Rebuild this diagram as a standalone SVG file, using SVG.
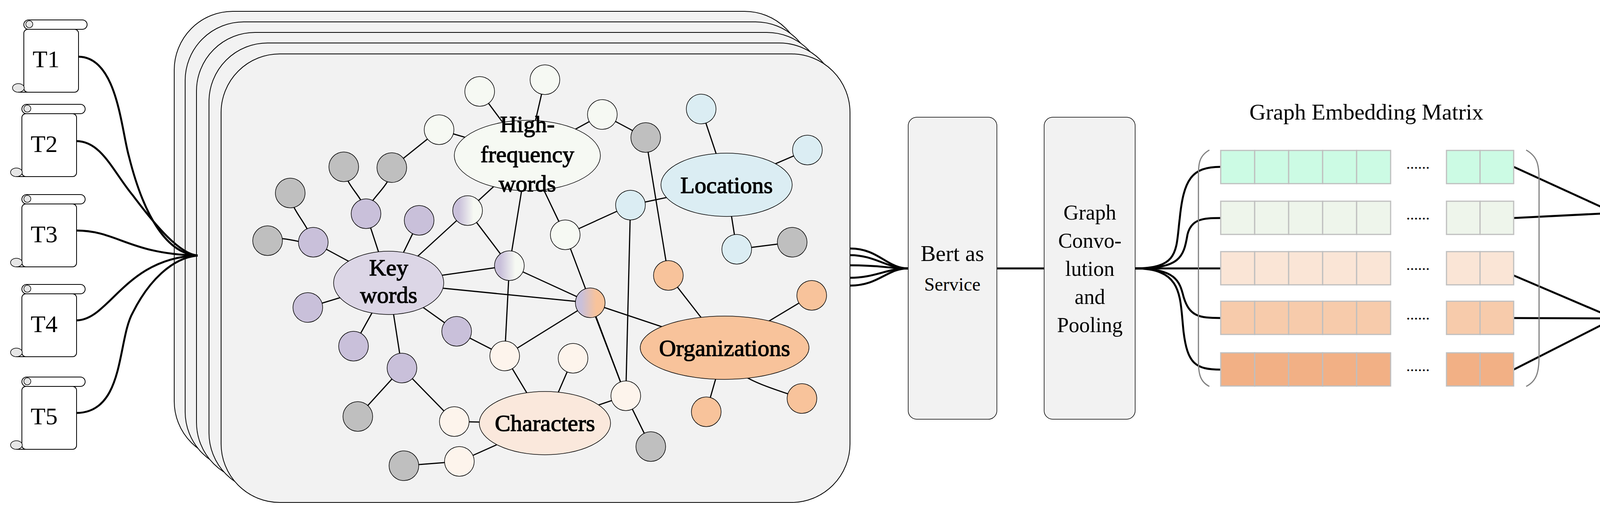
<svg xmlns="http://www.w3.org/2000/svg" width="4399" height="1313" viewBox="0 0 4399 1313">
<style>
text{font-family:"Liberation Serif","Times New Roman",serif;fill:#000;text-anchor:middle}
.e{stroke:#000;stroke-width:3;fill:none}
.f{stroke:#000;stroke-width:5;fill:none}
.n{stroke:#000;stroke-width:1.5}
.gray{fill:#bfbfbf}.gw{fill:#f6f9f3}.bl{fill:#dbedf3}.pu{fill:#c9c0da}.or{fill:#f8c39b}.pe{fill:#fdf4ec}
.panel{fill:#f2f2f2;stroke:#000;stroke-width:2}
.cell{stroke:#bfbfbf;stroke-width:3}
.r1{fill:#ccfbe4}.r2{fill:#eef5eb}.r3{fill:#fae5d6}.r4{fill:#f7cbab}.r5{fill:#f2b085}
</style>
<defs>
<linearGradient id="gpw"><stop offset="0.2" stop-color="#c9c0da"/><stop offset="0.7" stop-color="#f6f9f3"/></linearGradient>
<linearGradient id="gpo"><stop offset="0.2" stop-color="#c9c0da"/><stop offset="0.7" stop-color="#f8c39b"/></linearGradient>
<g id="scroll">
<rect x="0" y="0" width="140" height="161" rx="10" fill="#fff" stroke="#000" stroke-width="2"/>
<rect x="0" y="-24" width="162" height="24" rx="12" fill="#fff" stroke="#000" stroke-width="2"/>
<circle cx="14" cy="-13" r="9" fill="#e6e6e6" stroke="#000" stroke-width="1.5"/>
<ellipse cx="-14" cy="150" rx="15" ry="11" fill="#e6e6e6" stroke="#000" stroke-width="1.5"/>
<line x1="-14" y1="161" x2="10" y2="161" stroke="#000" stroke-width="2"/>
</g>
</defs>

<g id="docs">
<g id="T1"><use href="#scroll" x="61" y="75"/><text x="118" y="172" font-size="62">T1</text></g>
<g id="T2"><use href="#scroll" x="56" y="291"/><text x="113" y="389" font-size="62">T2</text></g>
<g id="T3"><use href="#scroll" x="56" y="522"/><text x="113" y="620" font-size="62">T3</text></g>
<g id="T4"><use href="#scroll" x="56" y="752"/><text x="113" y="850" font-size="62">T4</text></g>
<g id="T5"><use href="#scroll" x="56" y="989"/><text x="113" y="1086" font-size="62">T5</text></g>
</g>

<g id="panels">
<rect class="panel" x="446" y="29" width="1610" height="1148" rx="150"/>
<rect class="panel" x="474" y="56" width="1610" height="1148" rx="150"/>
<rect class="panel" x="503" y="83" width="1610" height="1148" rx="150"/>
<rect class="panel" x="535" y="110" width="1610" height="1148" rx="150"/>
<rect class="panel" x="566" y="138" width="1610" height="1148" rx="150"/>
</g>

<g id="connectors">
<path class="f" d="M200,145 C300,145 310,330 330,400 C370,560 430,650 506,654"/>
<path class="f" d="M195,361 C260,361 290,440 340,500 C400,580 460,650 506,654"/>
<path class="f" d="M195,590 C300,590 330,650 506,654"/>
<path class="f" d="M195,820 C280,820 320,660 506,654"/>
<path class="f" d="M195,1057 C320,1057 300,870 340,800 C380,720 440,660 506,654"/>
<path class="f" d="M2176,636 C2250,636 2270,687 2325,687"/>
<path class="f" d="M2176,653 C2240,653 2270,687 2325,687"/>
<path class="f" d="M2176,679 C2260,679 2270,687 2325,687"/>
<path class="f" d="M2176,711 C2240,711 2270,687 2325,687"/>
<path class="f" d="M2176,731 C2250,731 2270,687 2325,687"/>
<line class="f" x1="2552" y1="687" x2="2673" y2="687"/>
<path class="f" d="M2906,687 C3020,687 3010,640 3020,560 C3030,460 3050,427 3125,427" stroke-width="4"/>
<path class="f" d="M2906,687 C3020,687 3030,660 3040,600 C3050,560 3080,558 3125,558" stroke-width="4"/>
<line class="f" x1="2906" y1="687" x2="3125" y2="687"/>
<path class="f" d="M2906,687 C3010,687 3020,720 3030,760 C3045,810 3070,814 3125,814" stroke-width="4"/>
<path class="f" d="M2906,687 C3030,687 3020,760 3030,850 C3040,930 3060,946 3125,946" stroke-width="4"/>
<line class="f" x1="3875" y1="427" x2="4133" y2="545"/>
<line class="f" x1="3875" y1="558" x2="4133" y2="545"/>
<line class="f" x1="3875" y1="705" x2="4133" y2="815"/>
<line class="f" x1="3875" y1="814" x2="4133" y2="815"/>
<line class="f" x1="3875" y1="946" x2="4133" y2="815"/>
<g id="graph-edges" class="e">
<line x1="1350" y1="398" x2="1228" y2="234"/>
<line x1="1350" y1="398" x2="1395" y2="204"/>
<line x1="1350" y1="398" x2="1124" y2="332"/>
<line x1="1350" y1="398" x2="1542" y2="293"/>
<line x1="1003" y1="429" x2="1124" y2="332"/>
<line x1="1542" y1="293" x2="1653" y2="352"/>
<line x1="1653" y1="352" x2="1711" y2="705"/>
<line x1="1350" y1="398" x2="1447" y2="601"/>
<line x1="1447" y1="601" x2="1614" y2="525"/>
<line x1="1614" y1="525" x2="1860" y2="473"/>
<line x1="1860" y1="473" x2="1795" y2="279"/>
<line x1="1860" y1="473" x2="2067" y2="384"/>
<line x1="1860" y1="473" x2="1886" y2="638"/>
<line x1="1886" y1="638" x2="2028" y2="620"/>
<line x1="1447" y1="601" x2="1602" y2="1013"/>
<line x1="1614" y1="525" x2="1602" y2="1013"/>
<line x1="1350" y1="398" x2="1197" y2="539"/>
<line x1="1350" y1="398" x2="1304" y2="680"/>
<line x1="1197" y1="539" x2="995" y2="724"/>
<line x1="1197" y1="539" x2="1304" y2="680"/>
<line x1="1304" y1="680" x2="995" y2="724"/>
<line x1="1304" y1="680" x2="1511" y2="775"/>
<line x1="1304" y1="680" x2="1292" y2="911"/>
<line x1="995" y1="724" x2="1511" y2="775"/>
<line x1="1511" y1="775" x2="1855" y2="890"/>
<line x1="1511" y1="775" x2="1292" y2="911"/>
<line x1="1511" y1="775" x2="1602" y2="1013"/>
<line x1="995" y1="724" x2="937" y2="547"/>
<path d="M937,547 C930,500 885,480 880,427"/>
<path d="M937,547 C950,500 1000,480 1003,429"/>
<line x1="995" y1="724" x2="1073" y2="564"/>
<line x1="995" y1="724" x2="802" y2="620"/>
<path d="M802,620 C780,560 745,540 743,494"/>
<path d="M802,620 C760,625 730,600 685,616"/>
<line x1="995" y1="724" x2="788" y2="787"/>
<line x1="995" y1="724" x2="905" y2="886"/>
<line x1="995" y1="724" x2="1169" y2="848"/>
<line x1="1169" y1="848" x2="1292" y2="911"/>
<line x1="995" y1="724" x2="1029" y2="942"/>
<line x1="1029" y1="942" x2="916" y2="1066"/>
<line x1="1029" y1="942" x2="1163" y2="1079"/>
<line x1="1163" y1="1079" x2="1395" y2="1083"/>
<line x1="1395" y1="1083" x2="1292" y2="911"/>
<line x1="1395" y1="1083" x2="1467" y2="917"/>
<line x1="1395" y1="1083" x2="1176" y2="1181"/>
<line x1="1176" y1="1181" x2="1034" y2="1192"/>
<line x1="1395" y1="1083" x2="1602" y2="1013"/>
<line x1="1602" y1="1013" x2="1666" y2="1143"/>
<line x1="1855" y1="890" x2="1711" y2="705"/>
<line x1="1855" y1="890" x2="2078" y2="756"/>
<path d="M1855,890 C1880,960 1900,970 2053,1020"/>
<line x1="1855" y1="890" x2="1808" y2="1054"/>
</g>
</g>

<g id="graph-nodes" class="n">
<g id="n-gray">
<circle class="gray n" cx="880" cy="427" r="38"/><circle class="gray n" cx="1003" cy="429" r="38"/>
<circle class="gray n" cx="743" cy="494" r="38"/><circle class="gray n" cx="685" cy="616" r="38"/>
<circle class="gray n" cx="1653" cy="352" r="38"/><circle class="gray n" cx="2028" cy="620" r="38"/>
<circle class="gray n" cx="916" cy="1066" r="38"/><circle class="gray n" cx="1034" cy="1192" r="38"/>
<circle class="gray n" cx="1666" cy="1143" r="38"/>
</g>
<g id="n-hf">
<circle class="gw n" cx="1228" cy="234" r="38"/><circle class="gw n" cx="1395" cy="204" r="38"/>
<circle class="gw n" cx="1124" cy="332" r="38"/><circle class="gw n" cx="1542" cy="293" r="38"/>
<circle class="gw n" cx="1447" cy="601" r="38"/>
</g>
<g id="n-loc">
<circle class="bl n" cx="1795" cy="279" r="38"/><circle class="bl n" cx="2067" cy="384" r="38"/>
<circle class="bl n" cx="1614" cy="525" r="38"/><circle class="bl n" cx="1886" cy="638" r="38"/>
</g>
<g id="n-kw">
<circle class="pu n" cx="937" cy="547" r="38"/><circle class="pu n" cx="1073" cy="564" r="38"/>
<circle class="pu n" cx="802" cy="620" r="38"/><circle class="pu n" cx="788" cy="787" r="38"/>
<circle class="pu n" cx="905" cy="886" r="38"/><circle class="pu n" cx="1169" cy="848" r="38"/>
<circle class="pu n" cx="1029" cy="942" r="38"/>
</g>
<g id="n-mix">
<circle class="n" cx="1197" cy="539" r="38" fill="url(#gpw)"/>
<circle class="n" cx="1304" cy="680" r="38" fill="url(#gpw)"/>
<circle class="n" cx="1511" cy="775" r="38" fill="url(#gpo)"/>
</g>
<g id="n-org">
<circle class="or n" cx="1711" cy="705" r="38"/><circle class="or n" cx="2078" cy="756" r="38"/>
<circle class="or n" cx="2053" cy="1020" r="38"/><circle class="or n" cx="1808" cy="1054" r="38"/>
</g>
<g id="n-char">
<circle class="pe n" cx="1292" cy="911" r="38"/><circle class="pe n" cx="1467" cy="917" r="38"/>
<circle class="pe n" cx="1163" cy="1079" r="38"/><circle class="pe n" cx="1176" cy="1181" r="38"/>
<circle class="pe n" cx="1602" cy="1013" r="38"/>
</g>
<g id="hf"><ellipse class="gw n" cx="1350" cy="398" rx="187" ry="90"/>
<text x="1350" y="338" font-size="60">High-</text><text x="1350" y="415" font-size="60">frequency</text><text x="1350" y="490" font-size="60">words</text></g>
<g id="loc"><ellipse class="bl n" cx="1860" cy="473" rx="168" ry="81"/><text x="1860" y="494" font-size="60">Locations</text></g>
<g id="kw"><ellipse n="" class="n" fill="#dcd6e6" cx="995" cy="724" rx="141" ry="81"/>
<text x="995" y="705" font-size="60">Key</text><text x="995" y="775" font-size="60">words</text></g>
<g id="org"><ellipse class="or n" cx="1855" cy="890" rx="216" ry="81"/><text x="1855" y="911" font-size="60">Organizations</text></g>
<g id="char"><ellipse class="n" fill="#fae8dc" cx="1395" cy="1083" rx="168" ry="81"/><text x="1395" y="1103" font-size="60">Characters</text></g>
</g>

<g id="bert"><rect x="2325" y="300" width="227" height="773" rx="22" fill="#f2f2f2" stroke="#000" stroke-width="1.5"/>
<text x="2438" y="668" font-size="58">Bert as</text><text x="2438" y="744" font-size="48">Service</text></g>
<g id="gcn"><rect x="2673" y="300" width="233" height="773" rx="22" fill="#f2f2f2" stroke="#000" stroke-width="1.5"/>
<text x="2790" y="562" font-size="54">Graph</text><text x="2790" y="634" font-size="54">Convo-</text>
<text x="2790" y="706" font-size="54">lution</text><text x="2790" y="778" font-size="54">and</text><text x="2790" y="850" font-size="54">Pooling</text></g>

<g id="matrix">
<text x="3498" y="306" font-size="58">Graph Embedding Matrix</text>
<path d="M3096,384 C3068,400 3068,420 3068,460 V910 C3068,950 3068,975 3096,989" fill="none" stroke="#808080" stroke-width="3"/>
<path d="M3907,384 C3935,400 3940,420 3940,460 V910 C3940,950 3935,975 3907,989" fill="none" stroke="#808080" stroke-width="3"/>
<g class="r1 cell"><rect x="3125" y="385" width="87" height="85"/><rect x="3212" y="385" width="87" height="85"/><rect x="3299" y="385" width="87" height="85"/><rect x="3386" y="385" width="87" height="85"/><rect x="3473" y="385" width="87" height="85"/><rect x="3703" y="385" width="86" height="85"/><rect x="3789" y="385" width="86" height="85"/></g>
<g class="r2 cell"><rect x="3125" y="515" width="87" height="85"/><rect x="3212" y="515" width="87" height="85"/><rect x="3299" y="515" width="87" height="85"/><rect x="3386" y="515" width="87" height="85"/><rect x="3473" y="515" width="87" height="85"/><rect x="3703" y="515" width="86" height="85"/><rect x="3789" y="515" width="86" height="85"/></g>
<g class="r3 cell"><rect x="3125" y="644" width="87" height="85"/><rect x="3212" y="644" width="87" height="85"/><rect x="3299" y="644" width="87" height="85"/><rect x="3386" y="644" width="87" height="85"/><rect x="3473" y="644" width="87" height="85"/><rect x="3703" y="644" width="86" height="85"/><rect x="3789" y="644" width="86" height="85"/></g>
<g class="r4 cell"><rect x="3125" y="771" width="87" height="85"/><rect x="3212" y="771" width="87" height="85"/><rect x="3299" y="771" width="87" height="85"/><rect x="3386" y="771" width="87" height="85"/><rect x="3473" y="771" width="87" height="85"/><rect x="3703" y="771" width="86" height="85"/><rect x="3789" y="771" width="86" height="85"/></g>
<g class="r5 cell"><rect x="3125" y="903" width="87" height="85"/><rect x="3212" y="903" width="87" height="85"/><rect x="3299" y="903" width="87" height="85"/><rect x="3386" y="903" width="87" height="85"/><rect x="3473" y="903" width="87" height="85"/><rect x="3703" y="903" width="86" height="85"/><rect x="3789" y="903" width="86" height="85"/></g>
<text x="3630" y="432" font-size="40">......</text><text x="3630" y="562" font-size="40">......</text>
<text x="3630" y="691" font-size="40">......</text><text x="3630" y="818" font-size="40">......</text><text x="3630" y="950" font-size="40">......</text>
</g>

<g id="class1"><rect x="4133" y="461" width="243" height="167" rx="22" fill="#dcfbe8" stroke="#000" stroke-width="1.5"/><text x="4254" y="565" font-size="58">Class 1</text></g>
<g id="class2"><rect x="4133" y="731" width="243" height="168" rx="22" fill="#fbd9bc" stroke="#000" stroke-width="1.5"/><text x="4254" y="835" font-size="58">Class 2</text></g>
</svg>
